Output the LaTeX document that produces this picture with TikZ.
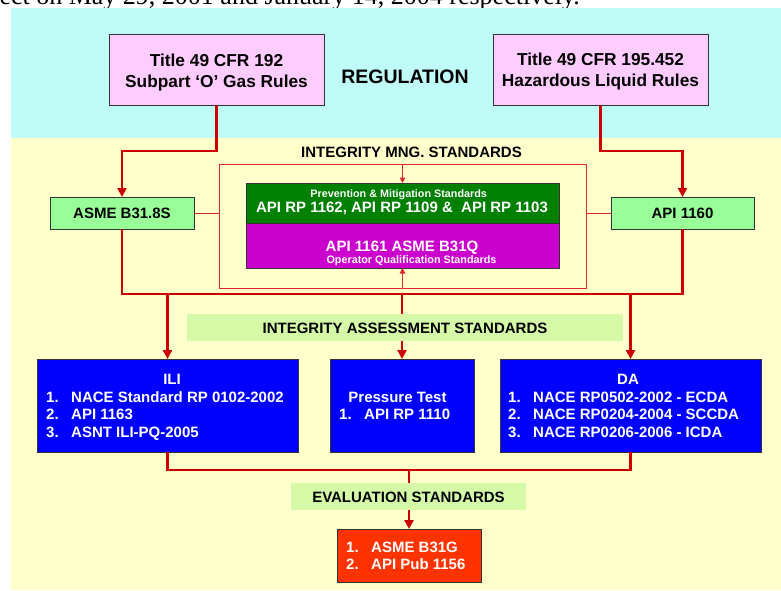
\documentclass[tikz,border=0pt]{standalone}
\usepackage{fontspec}
\setmainfont{Liberation Sans}
\newfontfamily\serifx{Liberation Serif}
\usetikzlibrary{arrows.meta}
\definecolor{cyanbg}{RGB}{191,251,247}
\definecolor{yelbg}{RGB}{255,255,204}
\definecolor{pinkbox}{RGB}{255,204,255}
\definecolor{lgreen}{RGB}{153,255,153}
\definecolor{dgreen}{RGB}{0,128,0}
\definecolor{magbox}{RGB}{204,0,204}
\definecolor{bluebox}{RGB}{0,0,255}
\definecolor{redbox}{RGB}{255,51,0}
\definecolor{bandc}{RGB}{212,250,168}
\definecolor{lred}{RGB}{204,0,0}
\definecolor{tred}{RGB}{222,40,40}
\tikzset{
  box/.style={draw=black!80, line width=0.9pt, inner sep=0pt, outer sep=0pt},
  bandbox/.style={fill=bandc, draw=none, inner sep=0pt, outer sep=0pt},
  redline/.style={draw=lred, line width=2.8pt},
  bigtip/.style={-{Triangle[width=9pt,length=9pt]}},
  thinline/.style={draw=tred, line width=1pt},
  smalltip/.style={-{Triangle[width=5.5pt,length=5.5pt]}},
  tb/.style={font=\bfseries\fontsize{15}{15}\selectfont, inner sep=0pt, anchor=base, text=black},
  tw/.style={font=\bfseries\fontsize{15}{15}\selectfont, inner sep=0pt, anchor=base, text=white},
  twl/.style={tw, anchor=base west},
  tp/.style={font=\bfseries\fontsize{17.3}{17.3}\selectfont, inner sep=0pt, anchor=base, text=black},
  tsm/.style={font=\bfseries\fontsize{10.8}{10.8}\selectfont, inner sep=0pt, anchor=base, text=white},
}
\begin{document}
\begin{tikzpicture}[x=1pt,y=-1pt]
\useasboundingbox (0,0) rectangle (781,590);
\clip (0,0) rectangle (781,590);
% cut-off text of the page above
\node[anchor=base east, font=\serifx\fontsize{26}{26}\selectfont, inner sep=0pt] (toptext) at (580,4.5) {ect on May 29, 2001 and January 14, 2004 respectively.};
% backgrounds
\fill[cyanbg] (11,8) rectangle (781,138);
\fill[yelbg] (11,138) rectangle (781,590);
% regulation
\node[box, fill=pinkbox, minimum width=215pt, minimum height=71pt] (pinkL) at (216.5,69.5) {};
\node[tp] (pinkL1) at (216.5,66) {Title 49 CFR 192};
\node[tp] (pinkL2) at (216.5,87) {Subpart ‘O’ Gas Rules};
\node[box, fill=pinkbox, minimum width=215pt, minimum height=71pt] (pinkR) at (600.5,69.5) {};
\node[tp] (pinkR1) at (600.5,65.5) {Title 49 CFR 195.452};
\node[tp] (pinkR2) at (600.5,86.5) {Hazardous Liquid Rules};
\node[font=\bfseries\fontsize{19.5}{19.5}\selectfont, inner sep=0pt, anchor=base] (reg) at (405,83) {REGULATION};
% integrity management
\node[box, fill=lgreen, minimum width=144pt, minimum height=32pt] (asme) at (122,213) {};
\node[tb] (asmet) at (122,218.5) {ASME B31.8S};
\node[box, fill=lgreen, minimum width=143pt, minimum height=32pt] (api) at (682.5,213) {};
\node[tb] (apit) at (682.5,218.5) {API 1160};
\node[tb] (imst) at (411.5,157) {INTEGRITY MNG. STANDARDS};
\node[draw=tred, line width=1pt, minimum width=367pt, minimum height=124pt, inner sep=0pt, outer sep=0pt] (ims) at (402.5,226) {};
\node[box, fill=dgreen, minimum width=313pt, minimum height=40pt] (grn) at (402.5,203) {};
\node[box, fill=magbox, minimum width=313pt, minimum height=45pt] (mag) at (402.5,245.5) {};
\node[tsm] (grn1) at (398.7,197) {Prevention \& Mitigation Standards};
\node[tw] (grn2) at (402,212) {API RP 1162, API RP 1109 \&\ \ API RP 1103};
\node[tw] (mag1) at (402,251) {API 1161 ASME B31Q};
\node[tsm] (mag2) at (411.5,263) {Operator Qualification Standards};
\draw[thinline, smalltip] (ims.north) -- (grn.north);
\draw[thinline, smalltip] (ims.south) -- (mag.south);
\draw[thinline] (asme.east) -- (asme.east -| ims.west);
\draw[thinline] (api.west) -- (api.west -| ims.east);
\coordinate (lvl) at (0,151);
\draw[redline, bigtip] (pinkL.south) -- (pinkL.south |- lvl) -| (asme.north);
\draw[redline, bigtip] (pinkR.south) -- (pinkR.south |- lvl) -| (api.north);
% assessment
\node[box, fill=bluebox, minimum width=261pt, minimum height=93pt] (ili) at (167.5,405.5) {};
\node[box, fill=bluebox, minimum width=144pt, minimum height=93pt] (pt) at (402,405.5) {};
\node[box, fill=bluebox, minimum width=261pt, minimum height=93pt] (da) at (630.5,405.5) {};
\coordinate (jm) at (402,294);
\draw[redline] (asme.south) |- (jm) -| (api.south);
\draw[redline, bigtip] (ili.north |- jm) -- (ili.north);
\draw[redline, bigtip] (jm) -- (pt.north);
\draw[redline, bigtip] (da.north |- jm) -- (da.north);
\node[bandbox, minimum width=436pt, minimum height=27pt] (iasb) at (405,327.5) {};
\node[tb] (iast) at (405,333) {INTEGRITY ASSESSMENT STANDARDS};
% ILI
\node[tw] (ilit) at (172,384) {ILI};
\node[twl] (ili1n) at (46,402) {1.};
\node[twl] (ili1) at (71,402) {NACE Standard RP 0102-2002};
\node[twl] (ili2n) at (46,419.5) {2.};
\node[twl] (ili2) at (71,419.5) {API 1163};
\node[twl] (ili3n) at (46,437) {3.};
\node[twl] (ili3) at (71,437) {ASNT ILI-PQ-2005};
% pressure test
\node[tw] (ptt) at (397.5,402) {Pressure Test};
\node[twl] (pt1n) at (339,419.5) {1.};
\node[twl] (pt1) at (364,419.5) {API RP 1110};
% DA
\node[tw] (dat) at (628,384) {DA};
\node[twl] (da1n) at (508,402) {1.};
\node[twl] (da1) at (533,402) {NACE RP0502-2002 - ECDA};
\node[twl] (da2n) at (508,419.5) {2.};
\node[twl] (da2) at (533,419.5) {NACE RP0204-2004 - SCCDA};
\node[twl] (da3n) at (508,437) {3.};
\node[twl] (da3) at (533,437) {NACE RP0206-2006 - ICDA};
% evaluation
\node[box, fill=redbox, minimum width=144pt, minimum height=53pt] (res) at (409,555.5) {};
\coordinate (jb) at (409,470);
\draw[redline] (ili.south) |- (jb) -| (da.south);
\draw[redline, bigtip] (jb) -- (res.north);
\node[bandbox, minimum width=235pt, minimum height=27pt] (evb) at (408.5,496.5) {};
\node[tb] (evt) at (408.5,502) {EVALUATION STANDARDS};
\node[twl] (res1n) at (346,552) {1.};
\node[twl] (res1) at (371,552) {ASME B31G};
\node[twl] (res2n) at (346,569.5) {2.};
\node[twl] (res2) at (371,569.5) {API Pub 1156};
\end{tikzpicture}
\end{document}
